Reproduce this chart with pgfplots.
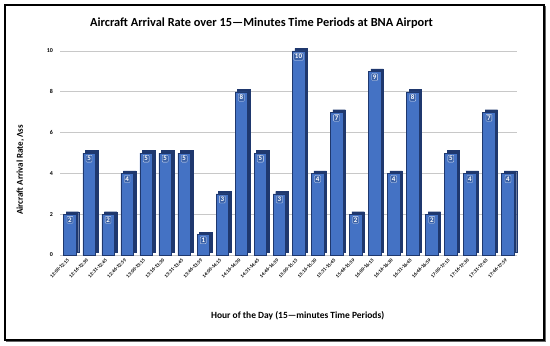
\documentclass[border=0pt]{standalone}
\usepackage{pgfplots}
\pgfplotsset{compat=1.18}
\usepackage{fontspec}
\setmainfont{Carlito}
\definecolor{barblue}{RGB}{68,114,196}
\definecolor{bardark}{RGB}{31,56,110}
\definecolor{gridgray}{RGB}{200,200,200}
\begin{document}
\begin{tikzpicture}
\useasboundingbox (-70bp,-91bp) rectangle (480bp,255bp);
\draw[line width=1.3bp] (-65bp,-85bp) rectangle (474bp,250bp);
\draw[line width=0.8bp, black!60] (-63.5bp,-86bp) -- (475.5bp,-86bp) -- (475.5bp,248.5bp);
\begin{axis}[
  at={(0,0)}, anchor=origin,
  scale only axis, width=457bp, height=204bp,
  ybar, bar width=12.5bp,
  xmin=-0.5, xmax=23.5, ymin=0, ymax=10,
  xtick={0,...,23},
  xticklabels={12:00-12:15,12:16-12:30,12:31-12:45,12:46-12:59,13:00-13:15,13:16-13:30,13:31-13:45,13:46-13:59,14:00-14:15,14:16-14:30,14:31-14:45,14:46-14:59,15:00-15:15,15:16-15:30,15:31-15:45,15:46-15:59,16:00-16:15,16:16-16:30,16:31-16:45,16:46-16:59,17:00-17:15,17:16-17:30,17:31-17:45,17:46-17:59},
  ytick={0,2,...,10},
  ymajorgrids, grid style={gridgray, line width=0.7bp},
  axis line style={draw=none},
  major tick length=0pt,
  /pgf/number format/assume math mode=true,
  yticklabel style={font=\fontsize{6}{7}\selectfont\bfseries, xshift=-4bp},
  xticklabel style={font=\fontsize{5}{6}\selectfont\bfseries, rotate=45, anchor=east, xshift=-1bp, yshift=-2bp},
  title={Aircraft Arrival Rate over 15—Minutes Time Periods at BNA Airport},
  title style={at={(axis description cs:0.44,1)}, anchor=center, yshift=22bp, font=\fontsize{12.4}{14}\selectfont\bfseries},
  xlabel={Hour of the Day (15—minutes Time Periods)},
  xlabel style={at={(axis description cs:0.519,0)}, anchor=center, yshift=-61bp, font=\fontsize{9.5}{11}\selectfont\bfseries},
  ylabel={Aircraft Arrival Rate, Λss},
  ylabel style={at={(axis description cs:-0.088,0.417)}, anchor=center, font=\fontsize{9}{11}\selectfont\bfseries},
  clip=false,
]
\addplot[fill=bardark, draw=bardark, bar shift=2.5bp, yshift=2.5bp, forget plot] coordinates {
(0,2)(1,5)(2,2)(3,4)(4,5)(5,5)(6,5)(7,1)(8,3)(9,8)(10,5)(11,3)(12,10)(13,4)(14,7)(15,2)(16,9)(17,4)(18,8)(19,2)(20,5)(21,4)(22,7)(23,4)};
\addplot[fill=barblue, draw=bardark, line width=0.5bp,
  nodes near coords,
  every node near coord/.append style={anchor=north, yshift=-2bp, text=white, font=\fontsize{7}{8}\selectfont\bfseries, fill=barblue!85!black, inner sep=1.2pt, draw=white!80!barblue, line width=0.3bp, rounded corners=0.8pt}]
 coordinates {
(0,2)(1,5)(2,2)(3,4)(4,5)(5,5)(6,5)(7,1)(8,3)(9,8)(10,5)(11,3)(12,10)(13,4)(14,7)(15,2)(16,9)(17,4)(18,8)(19,2)(20,5)(21,4)(22,7)(23,4)};
\end{axis}
\end{tikzpicture}
\end{document}
